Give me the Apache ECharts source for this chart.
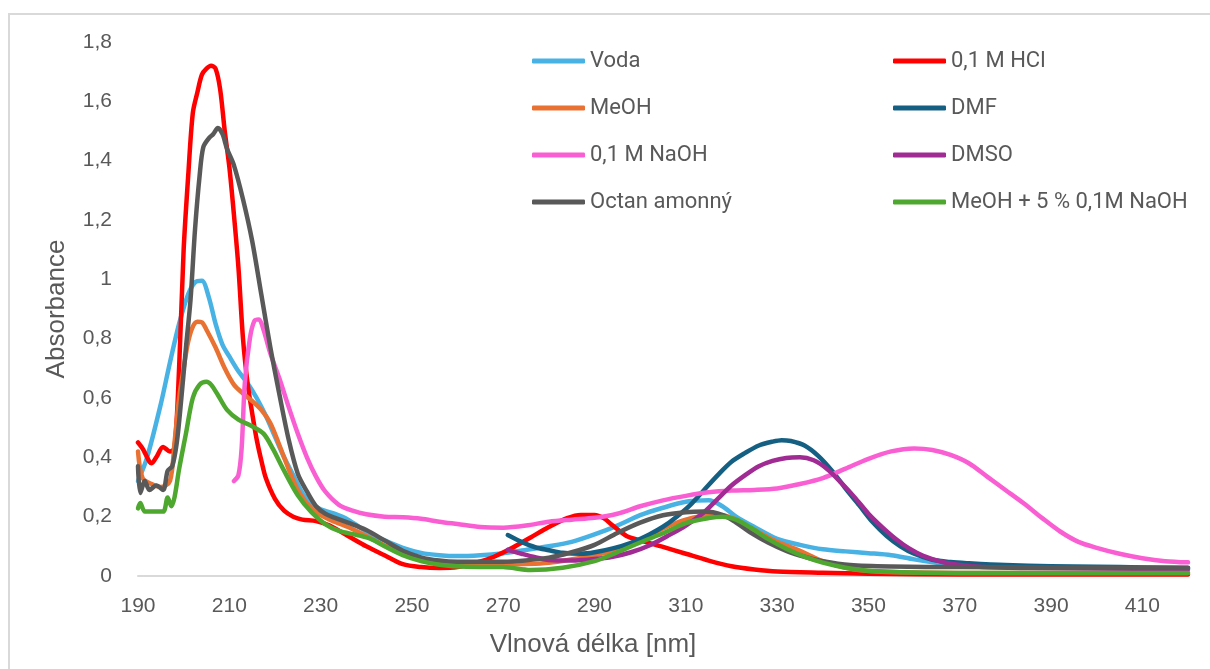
<!DOCTYPE html>
<html>
<head>
<meta charset="utf-8">
<script src="https://cdn.jsdelivr.net/npm/echarts@6/dist/echarts.min.js"></script>
<style>
html,body{margin:0;padding:0;background:#fff;}
#c{width:1210px;height:669px;}
</style>
</head>
<body>
<div id="c"></div>
<script>
// ---- data (wavelength nm, absorbance) ----
var seriesNames = ['Voda', '0,1 M HCl', 'MeOH', 'DMF', '0,1 M NaOH', 'DMSO', 'Octan amonný', 'MeOH + 5 % 0,1M NaOH'];
var xTicks = [190, 210, 230, 250, 270, 290, 310, 330, 350, 370, 390, 410];
var yTicks = [0, 0.2, 0.4, 0.6, 0.8, 1, 1.2, 1.4, 1.6, 1.8];

var voda = [[190,0.32],[192,0.40],[195,0.58],[197,0.72],[199,0.85],[201,0.95],[202.5,0.99],[204,0.995],[205.5,0.94],[207,0.85],[208.5,0.78],[210,0.74],[212,0.69],[214,0.65],[216,0.60],[218,0.54],[220,0.47],[222,0.40],[224,0.34],[226,0.28],[228,0.245],[230,0.225],[233,0.21],[236,0.19],[240,0.15],[244,0.12],[248,0.095],[252,0.078],[256,0.07],[260,0.067],[265,0.07],[270,0.077],[275,0.088],[280,0.10],[285,0.115],[290,0.14],[295,0.17],[300,0.205],[305,0.23],[310,0.25],[315,0.255],[318,0.235],[321,0.2],[325,0.165],[330,0.125],[335,0.105],[340,0.09],[345,0.083],[350,0.077],[355,0.07],[360,0.056],[365,0.045],[370,0.038],[380,0.032],[400,0.028],[420,0.025]];

var hcl = [[190,0.45],[191,0.43],[193,0.38],[194,0.40],[195.5,0.435],[197,0.42],[198,0.43],[199,0.7],[200,1.1],[201,1.35],[202,1.56],[203,1.63],[204,1.69],[205,1.71],[206,1.72],[207,1.71],[208,1.64],[209,1.5],[210,1.38],[211,1.22],[212,1.04],[213,0.8],[214,0.65],[215,0.55],[216,0.46],[217,0.39],[218,0.33],[220,0.26],[222,0.22],[224,0.2],[226,0.19],[229,0.185],[232,0.17],[236,0.135],[240,0.1],[244,0.07],[248,0.04],[252,0.03],[256,0.027],[260,0.03],[264,0.045],[268,0.065],[272,0.095],[276,0.13],[280,0.165],[284,0.195],[287,0.206],[290,0.206],[292,0.195],[294,0.17],[297,0.135],[300,0.12],[305,0.098],[310,0.075],[315,0.052],[320,0.033],[325,0.022],[330,0.015],[340,0.011],[350,0.008],[360,0.006],[380,0.005],[420,0.005]];

var meoh = [[190,0.42],[191,0.33],[193,0.31],[195,0.30],[197,0.32],[198,0.45],[199,0.6],[200,0.70],[201,0.79],[202,0.84],[203,0.857],[204,0.855],[205,0.83],[207,0.77],[209,0.70],[211,0.645],[213,0.615],[215,0.59],[217,0.56],[219,0.515],[221,0.44],[223,0.36],[225,0.29],[227,0.245],[229,0.215],[232,0.19],[236,0.165],[240,0.135],[245,0.095],[250,0.065],[255,0.05],[260,0.043],[270,0.04],[280,0.045],[290,0.07],[295,0.09],[300,0.12],[305,0.16],[310,0.19],[315,0.205],[318,0.205],[321,0.19],[325,0.155],[330,0.115],[335,0.085],[340,0.05],[345,0.028],[350,0.017],[360,0.012],[380,0.01],[420,0.01]];

var dmf = [[271,0.138],[274,0.115],[277,0.097],[280,0.087],[283,0.078],[287,0.075],[290,0.08],[294,0.093],[298,0.112],[302,0.14],[305,0.166],[308,0.2],[311,0.24],[314,0.29],[317,0.34],[320,0.385],[323,0.415],[326,0.44],[329,0.453],[331,0.458],[333,0.455],[336,0.44],[339,0.405],[342,0.355],[345,0.295],[348,0.238],[351,0.18],[354,0.135],[357,0.1],[360,0.075],[364,0.055],[368,0.047],[372,0.043],[380,0.037],[390,0.033],[400,0.031],[410,0.029],[420,0.027]];

var naoh = [[211,0.32],[212,0.34],[212.7,0.43],[213.4,0.65],[214.5,0.80],[215.5,0.86],[216.5,0.865],[217.5,0.83],[219,0.75],[221,0.665],[223,0.57],[225,0.48],[227,0.40],[229,0.335],[231,0.285],[234,0.24],[237,0.22],[240,0.208],[244,0.2],[248,0.198],[252,0.193],[256,0.183],[260,0.175],[265,0.165],[270,0.163],[275,0.17],[280,0.183],[285,0.19],[290,0.196],[295,0.21],[300,0.235],[305,0.255],[310,0.27],[315,0.282],[320,0.288],[325,0.29],[330,0.295],[335,0.31],[340,0.33],[345,0.362],[350,0.395],[355,0.42],[360,0.43],[364,0.425],[368,0.408],[372,0.38],[376,0.335],[380,0.29],[384,0.245],[388,0.196],[392,0.15],[396,0.115],[400,0.095],[405,0.075],[410,0.06],[415,0.05],[420,0.046]];

var dmso = [[271,0.088],[274,0.075],[277,0.063],[280,0.054],[285,0.052],[290,0.057],[294,0.065],[298,0.08],[302,0.103],[306,0.135],[310,0.17],[314,0.215],[317,0.26],[320,0.305],[323,0.34],[326,0.37],[329,0.388],[332,0.398],[335,0.4],[338,0.39],[341,0.36],[344,0.315],[347,0.265],[350,0.21],[353,0.165],[356,0.125],[359,0.092],[362,0.068],[366,0.048],[370,0.037],[375,0.03],[385,0.027],[400,0.025],[420,0.023]];

var octan = [[190,0.37],[190.5,0.28],[191.5,0.32],[192.5,0.29],[194,0.305],[195.5,0.29],[196.5,0.355],[197.5,0.37],[198.5,0.45],[199.5,0.6],[200.5,0.77],[201.5,0.93],[202.5,1.17],[203.5,1.35],[204.3,1.445],[205.5,1.475],[206.5,1.49],[207.5,1.51],[208.5,1.49],[209.5,1.44],[211,1.385],[213,1.27],[215,1.13],[217,0.95],[219,0.77],[221,0.61],[223,0.46],[225,0.345],[227,0.285],[229,0.235],[231,0.21],[233,0.197],[236,0.18],[240,0.155],[244,0.12],[248,0.085],[252,0.063],[256,0.052],[260,0.048],[270,0.048],[280,0.062],[285,0.08],[290,0.105],[295,0.145],[300,0.18],[305,0.205],[310,0.215],[314,0.217],[318,0.206],[321,0.18],[324,0.148],[328,0.113],[332,0.085],[336,0.065],[340,0.05],[346,0.037],[355,0.032],[370,0.03],[420,0.028]];

var meohNaoh = [[190,0.228],[190.5,0.246],[191.5,0.217],[193,0.217],[195.5,0.217],[196.5,0.265],[197.3,0.235],[198,0.265],[199,0.36],[200.5,0.48],[202,0.6],[203.5,0.645],[205,0.655],[206,0.645],[207.5,0.61],[209.5,0.56],[212,0.527],[215,0.505],[217.5,0.48],[219.5,0.43],[222,0.355],[225,0.272],[228,0.215],[231,0.175],[234,0.152],[238,0.138],[241,0.125],[244,0.1],[248,0.07],[252,0.05],[256,0.038],[262,0.031],[270,0.03],[276,0.02],[283,0.028],[290,0.05],[295,0.08],[300,0.113],[305,0.144],[310,0.178],[315,0.195],[318,0.2],[321,0.19],[324,0.165],[328,0.125],[332,0.092],[336,0.065],[340,0.045],[345,0.028],[350,0.018],[360,0.012],[380,0.01],[420,0.01]];

var seriesData = [voda, hcl, meoh, dmf, naoh, dmso, octan, meohNaoh];
var colors = ['#47B2E3', '#FF0000', '#E97132', '#156082', '#F95FD3', '#A02B93', '#595959', '#4EA72E'];

var chart = echarts.init(document.getElementById('c'), null, {renderer: 'canvas'});
var textColor = '#595959';
var fontFam = 'Liberation Sans, Arial, sans-serif';

var series = seriesNames.map(function (n, i) {
  return {
    name: n,
    type: 'line',
    data: seriesData[i],
    showSymbol: false,
    symbol: 'none',
    smooth: 0.3,
    color: colors[i],
    lineStyle: {width: 4.5, color: colors[i], cap: 'round', join: 'round'},
    z: 2 + i
  };
});

var legendCommon = {
  orient: 'vertical',
  top: 45,
  icon: 'roundRect',
  itemWidth: 53,
  itemHeight: 5,
  itemGap: 25,
  textStyle: {color: textColor, fontSize: 22, lineHeight: 22, fontFamily: 'Roboto, sans-serif'}
};

chart.setOption({
  animation: false,
  backgroundColor: '#fff',
  grid: {left: 138, right: 22, top: 42, bottom: 93, containLabel: false},
  legend: [
    Object.assign({}, legendCommon, {left: 527, data: [seriesNames[0], seriesNames[2], seriesNames[4], seriesNames[6]]}),
    Object.assign({}, legendCommon, {left: 888, data: [seriesNames[1], seriesNames[3], seriesNames[5], seriesNames[7]]})
  ],
  xAxis: {
    type: 'value',
    min: 190,
    max: 420,
    interval: 20,
    axisLine: {show: true, lineStyle: {color: '#d9d9d9', width: 2}},
    axisTick: {show: false},
    splitLine: {show: false},
    axisLabel: {
      color: textColor, fontSize: 21, fontFamily: fontFam, margin: 20,
      showMaxLabel: false,
      formatter: function (v) { return xTicks.indexOf(v) >= 0 ? String(v) : ''; }
    }
  },
  yAxis: {
    type: 'value',
    min: 0,
    max: 1.8,
    interval: 0.2,
    name: 'Absorbance',
    nameLocation: 'middle',
    nameGap: 68,
    nameTextStyle: {color: textColor, fontSize: 26, fontFamily: fontFam},
    axisLine: {show: false},
    axisTick: {show: false},
    splitLine: {show: false},
    axisLabel: {
      color: textColor, fontSize: 21, fontFamily: fontFam, margin: 26,
      formatter: function (v) {
        var r = Math.round(v * 10) / 10;
        return yTicks.indexOf(r) >= 0 ? String(r).replace('.', ',') : '';
      }
    }
  },
  graphic: [
    {type: 'rect', z: -10, shape: {x: 9, y: 14, width: 1400, height: 900}, style: {fill: 'none', stroke: '#d9d9d9', lineWidth: 2}},
    {type: 'text', x: 593, y: 645, style: {text: 'Vlnová délka [nm]', fill: textColor, fontSize: 26, fontFamily: fontFam, textAlign: 'center', textVerticalAlign: 'middle'}}
  ],
  series: series
});
</script>
</body>
</html>
